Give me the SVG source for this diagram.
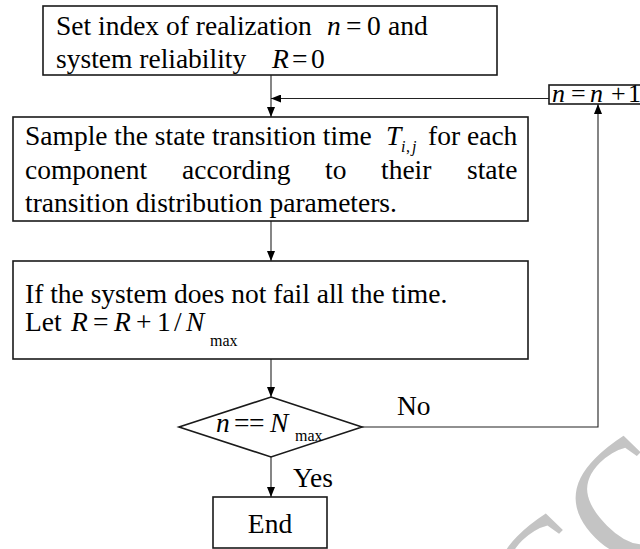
<svg xmlns="http://www.w3.org/2000/svg" width="640" height="549" viewBox="0 0 640 549">
<style>
.box{fill:#fff;stroke:#1a1a1a;stroke-width:1.6}
.t{font-family:"Liberation Serif","Times New Roman",Times,serif;font-size:27.5px;fill:#000}
.i{font-style:italic}
.sub{font-size:16px}
.con{fill:none;stroke:#222;stroke-width:1.1}
.wm{font-family:"Liberation Serif","Times New Roman",serif;font-size:165px;fill:#c4c4c4}
</style>
<defs>
<marker id="arr" markerUnits="userSpaceOnUse" markerWidth="10" markerHeight="8" refX="10" refY="4" orient="auto">
<path d="M0,0 L10,4 L0,8 Z" fill="#000"/>
</marker>
</defs>
<text class="wm" transform="translate(466,742) rotate(-45)">ACC</text>
<g id="connectors">
<path class="con" d="M271 75 V117" marker-end="url(#arr)"/>
<path class="con" d="M549 98.5 H271" marker-end="url(#arr)"/>
<path class="con" d="M271 221 V261" marker-end="url(#arr)"/>
<path class="con" d="M271 359 V397" marker-end="url(#arr)"/>
<path class="con" d="M362 427 H598 V104" marker-end="url(#arr)"/>
<path class="con" d="M271 457 V497" marker-end="url(#arr)"/>
</g>
<g id="init" font-family="Liberation Serif, serif">
<rect class="box" x="43" y="6" width="454" height="69"/>
<text class="t" y="35"><tspan x="56">Set index of realization</tspan><tspan x="327" class="i">n</tspan><tspan x="346">=</tspan><tspan x="367">0</tspan><tspan x="388">and</tspan></text>
<text class="t" y="68"><tspan x="56">system reliability</tspan><tspan x="272" class="i">R</tspan><tspan x="292">=</tspan><tspan x="311">0</tspan></text>
</g>
<g id="sample" font-family="Liberation Serif, serif">
<rect class="box" x="13" y="117" width="515" height="104"/>
<text class="t" y="145"><tspan x="25">Sample the state transition time</tspan><tspan x="386" class="i">T</tspan><tspan x="401" y="152" class="i sub">i</tspan><tspan x="406" y="152" class="sub">,</tspan><tspan x="412" y="152" class="i sub">j</tspan><tspan x="428" y="145">for</tspan><tspan x="467">each</tspan></text>
<text class="t" y="179"><tspan x="25">component</tspan><tspan x="182">according</tspan><tspan x="325">to</tspan><tspan x="381">their</tspan><tspan x="467">state</tspan></text>
<text class="t" y="212"><tspan x="25">transition distribution parameters.</tspan></text>
</g>
<g id="update" font-family="Liberation Serif, serif">
<rect class="box" x="13" y="261" width="515" height="98"/>
<text class="t" y="303"><tspan x="25">If the system does not fail all the time.</tspan></text>
<text class="t" y="331"><tspan x="25">Let</tspan><tspan x="71" class="i">R</tspan><tspan x="93">=</tspan><tspan x="114" class="i">R</tspan><tspan x="136">+</tspan><tspan x="157">1</tspan><tspan x="174">/</tspan><tspan x="186" class="i">N</tspan><tspan x="210" y="346" class="sub">max</tspan></text>
</g>
<g id="check" font-family="Liberation Serif, serif">
<polygon class="box" points="271,397 362,427 271,457 179,427"/>
<text class="t" y="432"><tspan x="216" class="i">n</tspan><tspan x="234">=</tspan><tspan x="249">=</tspan><tspan x="270" class="i">N</tspan><tspan x="295" y="441" class="sub">max</tspan></text>
</g>
<g id="increment" font-family="Liberation Serif, serif">
<rect class="box" x="549" y="85" width="100" height="19"/>
<text class="t" y="102" style="font-size:26px"><tspan x="552" class="i">n</tspan><tspan x="571">=</tspan><tspan x="590" class="i">n</tspan><tspan x="611">+</tspan><tspan x="628">1</tspan></text>
</g>
<g id="end" font-family="Liberation Serif, serif">
<rect class="box" x="213" y="497" width="114" height="51"/>
<text class="t" x="270" y="533" text-anchor="middle">End</text>
</g>
<g id="labels" font-family="Liberation Serif, serif">
<text class="t" x="397" y="415">No</text>
<text class="t" x="293" y="487">Yes</text>
</g>
</svg>
